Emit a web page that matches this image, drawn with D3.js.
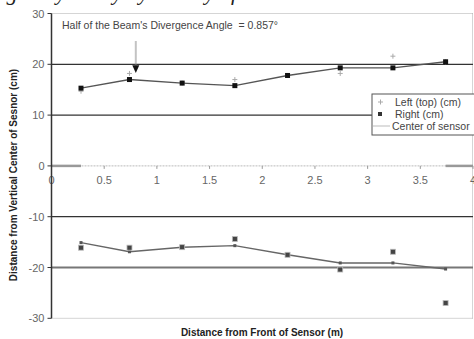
<!DOCTYPE html>
<html>
<head>
<meta charset="utf-8">
<script src="https://cdn.jsdelivr.net/npm/d3@7"></script>
<style>
  body { margin: 0; background: #fff; }
  svg { display: block; font-family: Arial, "Liberation Sans", sans-serif; }
</style>
</head>
<body>
<script>
// data
var xValues = [0.28, 0.74, 1.24, 1.74, 2.24, 2.74, 3.24, 3.74];
var rightTop = [15.3, 17.0, 16.3, 15.8, 17.8, 19.3, 19.3, 20.5];
var leftTop = [14.7, 18.2, 16.3, 17.0, 17.8, 18.2, 21.6, 20.5];
var leftBottom = [-15.1, -16.9, -16.0, -15.7, -17.5, -19.1, -19.1, -20.3];
var rightBottom = [-16.1, -16.1, -16.0, -14.4, -17.5, -20.4, -16.9, -27.0];
var centerSegments = [[0, 0.28], [3.74, 4]];
var xTicks = [0, 0.5, 1, 1.5, 2, 2.5, 3, 3.5, 4];
var yTicks = [30, 20, 10, 0, -10, -20, -30];
var solidGrid = [20, 10, -10, -20];
var legendLabels = ["Left (top) (cm)", "Right (cm)", "Center of sensor"];

var svgWidth = 474, svgHeight = 339;

var svg = d3.select("body").append("svg")
  .attr("width", svgWidth)
  .attr("height", svgHeight);

var x = d3.scaleLinear().domain([0, 4]).range([51.5, 473]);
var y = d3.scaleLinear().domain([-30, 30]).range([318.3, 13.5]);

// caption cut off at the top of the scan (only descenders show)
svg.append("text")
  .attr("x", -13).attr("y", 0)
  .style("font-family", "'Liberation Serif', serif")
  .style("font-style", "italic")
  .style("font-size", "22px")
  .attr("fill", "#222")
  .text("Fig. 9 by Array Symmetry of the Beam");

// dotted border lines
svg.append("g").selectAll("line")
  .data([30, -30])
  .join("line")
  .attr("x1", x(0)).attr("x2", x(4))
  .attr("y1", d => y(d)).attr("y2", d => y(d))
  .attr("stroke", "#aaa").attr("stroke-dasharray", "1,1");
svg.append("line")
  .attr("x1", x(4) - 0.5).attr("x2", x(4) - 0.5)
  .attr("y1", y(30)).attr("y2", y(-30))
  .attr("stroke", "#aaa").attr("stroke-dasharray", "1,1");

// solid gridlines
svg.append("g").selectAll("line")
  .data(solidGrid)
  .join("line")
  .attr("x1", x(0)).attr("x2", x(4))
  .attr("y1", d => y(d)).attr("y2", d => y(d))
  .attr("stroke", d => d == -20 ? "#777" : "#333")
  .attr("stroke-width", d => d == -20 ? 2 : 1.3);

// zero axis with ticks
svg.append("line")
  .attr("x1", x(0)).attr("x2", x(4))
  .attr("y1", y(0)).attr("y2", y(0))
  .attr("stroke", "#bbb").attr("stroke-dasharray", "2,1");
svg.append("g").selectAll("line")
  .data(xTicks)
  .join("line")
  .attr("x1", d => x(d)).attr("x2", d => x(d))
  .attr("y1", y(0)).attr("y2", y(0) + 3)
  .attr("stroke", "#999");
svg.append("g").selectAll("text")
  .data(xTicks)
  .join("text")
  .attr("x", d => x(d)).attr("y", y(0) + 18)
  .attr("text-anchor", "middle")
  .attr("font-size", 11)
  .attr("fill", "#666")
  .text(d => d);

// center of sensor
svg.append("g").selectAll("line")
  .data(centerSegments)
  .join("line")
  .attr("x1", d => x(d[0])).attr("x2", d => x(d[1]))
  .attr("y1", y(0)).attr("y2", y(0))
  .attr("stroke", "#999").attr("stroke-width", 2.5);

// y axis
svg.append("line")
  .attr("x1", x(0)).attr("x2", x(0))
  .attr("y1", y(30)).attr("y2", y(-30))
  .attr("stroke", "#333").attr("stroke-width", 1.5);
svg.append("g").selectAll("line")
  .data(yTicks)
  .join("line")
  .attr("x1", x(0) - 4).attr("x2", x(0))
  .attr("y1", d => y(d)).attr("y2", d => y(d))
  .attr("stroke", "#333");
svg.append("g").selectAll("text")
  .data(yTicks)
  .join("text")
  .attr("x", x(0) - 7).attr("y", d => y(d) + 4)
  .attr("text-anchor", "end")
  .attr("font-size", 11)
  .attr("fill", "#666")
  .text(d => d);

// lines
var line = d3.line()
  .x((d, i) => x(xValues[i]))
  .y(d => y(d));

svg.append("path")
  .datum(rightTop)
  .attr("d", line)
  .attr("fill", "none").attr("stroke", "#555").attr("stroke-width", 1.4);
svg.append("path")
  .datum(leftBottom)
  .attr("d", line)
  .attr("fill", "none").attr("stroke", "#666").attr("stroke-width", 1.4);

// markers
svg.append("g").selectAll("path")
  .data(leftTop)
  .join("path")
  .attr("d", (d, i) => "M" + (x(xValues[i]) - 2.5) + "," + y(d) + "h5M" + x(xValues[i]) + "," + (y(d) - 2.5) + "v5")
  .attr("stroke", "#aaa").attr("stroke-width", 1);
svg.append("g").selectAll("rect")
  .data(rightTop)
  .join("rect")
  .attr("x", (d, i) => x(xValues[i]) - 2.5).attr("y", d => y(d) - 2.5)
  .attr("width", 5).attr("height", 5)
  .attr("fill", "#111");
svg.append("g").selectAll("rect")
  .data(leftBottom)
  .join("rect")
  .attr("x", (d, i) => x(xValues[i]) - 1.5).attr("y", d => y(d) - 1.5)
  .attr("width", 3).attr("height", 3)
  .attr("fill", "#555");
svg.append("g").selectAll("rect")
  .data(rightBottom)
  .join("rect")
  .attr("x", (d, i) => x(xValues[i]) - 2.5).attr("y", d => y(d) - 2.5)
  .attr("width", 5).attr("height", 5)
  .attr("fill", "#444").attr("stroke", "#bbb").attr("stroke-width", 0.8);

// annotation
svg.append("text")
  .attr("x", 62).attr("y", 29)
  .attr("font-size", 10.5)
  .attr("fill", "#444")
  .attr("xml:space", "preserve")
  .text("Half of the Beam's Divergence Angle  = 0.857\u00b0");
svg.append("line")
  .attr("x1", x(0.8)).attr("x2", x(0.8))
  .attr("y1", y(24.5)).attr("y2", y(19.6))
  .attr("stroke", "#888").attr("stroke-width", 2).attr("stroke-dasharray", "1,1");
svg.append("path")
  .attr("d", "M" + (x(0.8) - 3.5) + "," + y(19.8) + "L" + (x(0.8) + 3.5) + "," + y(19.8) + "L" + x(0.8) + "," + y(18.3) + "Z")
  .attr("fill", "#111");

// legend
var legend = svg.append("g");
legend.append("rect")
  .attr("x", 372).attr("y", 94)
  .attr("width", 110).attr("height", 41)
  .attr("fill", "#fff").attr("stroke", "#555");
legendLabels.forEach(function(label, i) {
  var ly = 102 + i * 12;
  if (i == 0) {
    legend.append("path")
      .attr("d", "M378," + ly + "h5M380.5," + (ly - 2.5) + "v5")
      .attr("stroke", "#aaa");
  } else if (i == 1) {
    legend.append("rect")
      .attr("x", 378).attr("y", ly - 2).attr("width", 4).attr("height", 4)
      .attr("fill", "#333");
  } else {
    legend.append("line")
      .attr("x1", 373).attr("x2", 390).attr("y1", ly).attr("y2", ly)
      .attr("stroke", "#bbb");
  }
  legend.append("text")
    .attr("x", i == 2 ? 392 : 395).attr("y", ly + 4)
    .attr("font-size", 10.5)
    .attr("fill", "#444")
    .text(label);
});

// axis titles
svg.append("text")
  .attr("x", 262).attr("y", 336)
  .attr("text-anchor", "middle")
  .attr("font-size", 10)
  .attr("font-weight", "bold")
  .attr("fill", "#222")
  .text("Distance from Front of Sensor (m)");
svg.append("text")
  .attr("transform", "translate(17,175) rotate(-90)")
  .attr("text-anchor", "middle")
  .attr("font-size", 10)
  .attr("font-weight", "bold")
  .attr("fill", "#222")
  .text("Distance from Vertical Center of Sesnor (cm)");
</script>
</body>
</html>
